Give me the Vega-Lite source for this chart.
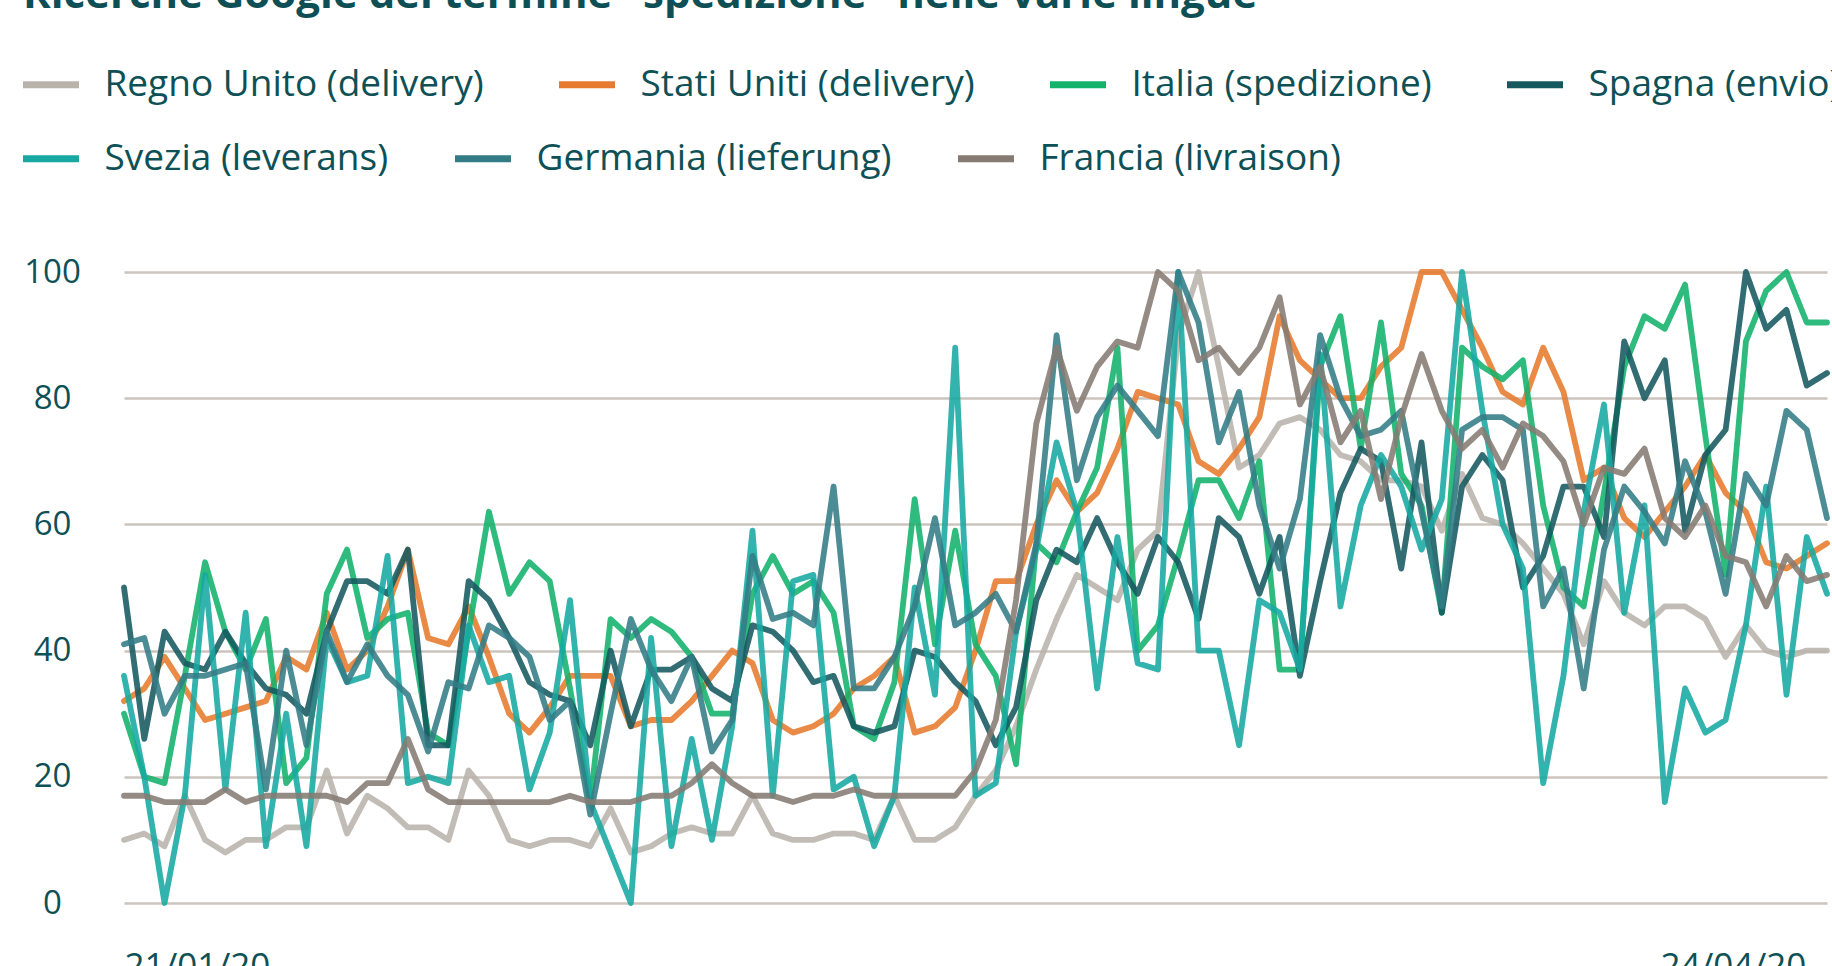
{
  "$schema": "https://vega.github.io/schema/vega-lite/v6.json",
  "width": 1703,
  "height": 631,
  "autosize": {"type": "none"},
  "padding": {"left": 124, "top": 272, "right": 5, "bottom": 63},
  "background": "white",
  "title": {
    "text": "Ricerche Google del termine \"spedizione\" nelle varie lingue",
    "anchor": "start",
    "frame": "group",
    "orient": "top",
    "offset": 0,
    "dx": -101,
    "dy": -3,
    "baseline": "alphabetic",
    "font": "Open Sans",
    "fontSize": 42,
    "fontWeight": "bold",
    "color": "#0d4f54"
  },
  "config": {
    "view": {"stroke": null},
    "font": "Open Sans",
    "legend": {
      "title": null,
      "orient": "none",
      "legendX": -104.5,
      "direction": "horizontal",
      "padding": 0,
      "symbolType": "stroke",
      "symbolSize": 3136,
      "symbolStrokeWidth": 7,
      "symbolOpacity": 1,
      "labelFont": "Open Sans",
      "labelFontSize": 37,
      "labelColor": "#0d5055",
      "labelOffset": 22,
      "labelLimit": 0
    }
  },
  "data": {
    "values": [
      {"serie":"Regno Unito (delivery)","i":0,"v":10},{"serie":"Regno Unito (delivery)","i":1,"v":11},{"serie":"Regno Unito (delivery)","i":2,"v":9},{"serie":"Regno Unito (delivery)","i":3,"v":17},{"serie":"Regno Unito (delivery)","i":4,"v":10},{"serie":"Regno Unito (delivery)","i":5,"v":8},{"serie":"Regno Unito (delivery)","i":6,"v":10},{"serie":"Regno Unito (delivery)","i":7,"v":10},{"serie":"Regno Unito (delivery)","i":8,"v":12},{"serie":"Regno Unito (delivery)","i":9,"v":12},
      {"serie":"Regno Unito (delivery)","i":10,"v":21},{"serie":"Regno Unito (delivery)","i":11,"v":11},{"serie":"Regno Unito (delivery)","i":12,"v":17},{"serie":"Regno Unito (delivery)","i":13,"v":15},{"serie":"Regno Unito (delivery)","i":14,"v":12},{"serie":"Regno Unito (delivery)","i":15,"v":12},{"serie":"Regno Unito (delivery)","i":16,"v":10},{"serie":"Regno Unito (delivery)","i":17,"v":21},{"serie":"Regno Unito (delivery)","i":18,"v":17},{"serie":"Regno Unito (delivery)","i":19,"v":10},
      {"serie":"Regno Unito (delivery)","i":20,"v":9},{"serie":"Regno Unito (delivery)","i":21,"v":10},{"serie":"Regno Unito (delivery)","i":22,"v":10},{"serie":"Regno Unito (delivery)","i":23,"v":9},{"serie":"Regno Unito (delivery)","i":24,"v":15},{"serie":"Regno Unito (delivery)","i":25,"v":8},{"serie":"Regno Unito (delivery)","i":26,"v":9},{"serie":"Regno Unito (delivery)","i":27,"v":11},{"serie":"Regno Unito (delivery)","i":28,"v":12},{"serie":"Regno Unito (delivery)","i":29,"v":11},
      {"serie":"Regno Unito (delivery)","i":30,"v":11},{"serie":"Regno Unito (delivery)","i":31,"v":17},{"serie":"Regno Unito (delivery)","i":32,"v":11},{"serie":"Regno Unito (delivery)","i":33,"v":10},{"serie":"Regno Unito (delivery)","i":34,"v":10},{"serie":"Regno Unito (delivery)","i":35,"v":11},{"serie":"Regno Unito (delivery)","i":36,"v":11},{"serie":"Regno Unito (delivery)","i":37,"v":10},{"serie":"Regno Unito (delivery)","i":38,"v":17},{"serie":"Regno Unito (delivery)","i":39,"v":10},
      {"serie":"Regno Unito (delivery)","i":40,"v":10},{"serie":"Regno Unito (delivery)","i":41,"v":12},{"serie":"Regno Unito (delivery)","i":42,"v":17},{"serie":"Regno Unito (delivery)","i":43,"v":21},{"serie":"Regno Unito (delivery)","i":44,"v":28},{"serie":"Regno Unito (delivery)","i":45,"v":37},{"serie":"Regno Unito (delivery)","i":46,"v":45},{"serie":"Regno Unito (delivery)","i":47,"v":52},{"serie":"Regno Unito (delivery)","i":48,"v":50},{"serie":"Regno Unito (delivery)","i":49,"v":48},
      {"serie":"Regno Unito (delivery)","i":50,"v":56},{"serie":"Regno Unito (delivery)","i":51,"v":59},{"serie":"Regno Unito (delivery)","i":52,"v":90},{"serie":"Regno Unito (delivery)","i":53,"v":100},{"serie":"Regno Unito (delivery)","i":54,"v":85},{"serie":"Regno Unito (delivery)","i":55,"v":69},{"serie":"Regno Unito (delivery)","i":56,"v":71},{"serie":"Regno Unito (delivery)","i":57,"v":76},{"serie":"Regno Unito (delivery)","i":58,"v":77},{"serie":"Regno Unito (delivery)","i":59,"v":75},
      {"serie":"Regno Unito (delivery)","i":60,"v":71},{"serie":"Regno Unito (delivery)","i":61,"v":70},{"serie":"Regno Unito (delivery)","i":62,"v":67},{"serie":"Regno Unito (delivery)","i":63,"v":67},{"serie":"Regno Unito (delivery)","i":64,"v":66},{"serie":"Regno Unito (delivery)","i":65,"v":59},{"serie":"Regno Unito (delivery)","i":66,"v":68},{"serie":"Regno Unito (delivery)","i":67,"v":61},{"serie":"Regno Unito (delivery)","i":68,"v":60},{"serie":"Regno Unito (delivery)","i":69,"v":57},
      {"serie":"Regno Unito (delivery)","i":70,"v":53},{"serie":"Regno Unito (delivery)","i":71,"v":49},{"serie":"Regno Unito (delivery)","i":72,"v":41},{"serie":"Regno Unito (delivery)","i":73,"v":51},{"serie":"Regno Unito (delivery)","i":74,"v":46},{"serie":"Regno Unito (delivery)","i":75,"v":44},{"serie":"Regno Unito (delivery)","i":76,"v":47},{"serie":"Regno Unito (delivery)","i":77,"v":47},{"serie":"Regno Unito (delivery)","i":78,"v":45},{"serie":"Regno Unito (delivery)","i":79,"v":39},
      {"serie":"Regno Unito (delivery)","i":80,"v":44},{"serie":"Regno Unito (delivery)","i":81,"v":40},{"serie":"Regno Unito (delivery)","i":82,"v":39},{"serie":"Regno Unito (delivery)","i":83,"v":40},{"serie":"Regno Unito (delivery)","i":84,"v":40},

      {"serie":"Stati Uniti (delivery)","i":0,"v":32},{"serie":"Stati Uniti (delivery)","i":1,"v":34},{"serie":"Stati Uniti (delivery)","i":2,"v":39},{"serie":"Stati Uniti (delivery)","i":3,"v":34},{"serie":"Stati Uniti (delivery)","i":4,"v":29},{"serie":"Stati Uniti (delivery)","i":5,"v":30},{"serie":"Stati Uniti (delivery)","i":6,"v":31},{"serie":"Stati Uniti (delivery)","i":7,"v":32},{"serie":"Stati Uniti (delivery)","i":8,"v":39},{"serie":"Stati Uniti (delivery)","i":9,"v":37},
      {"serie":"Stati Uniti (delivery)","i":10,"v":46},{"serie":"Stati Uniti (delivery)","i":11,"v":37},{"serie":"Stati Uniti (delivery)","i":12,"v":40},{"serie":"Stati Uniti (delivery)","i":13,"v":47},{"serie":"Stati Uniti (delivery)","i":14,"v":56},{"serie":"Stati Uniti (delivery)","i":15,"v":42},{"serie":"Stati Uniti (delivery)","i":16,"v":41},{"serie":"Stati Uniti (delivery)","i":17,"v":47},{"serie":"Stati Uniti (delivery)","i":18,"v":39},{"serie":"Stati Uniti (delivery)","i":19,"v":30},
      {"serie":"Stati Uniti (delivery)","i":20,"v":27},{"serie":"Stati Uniti (delivery)","i":21,"v":31},{"serie":"Stati Uniti (delivery)","i":22,"v":36},{"serie":"Stati Uniti (delivery)","i":23,"v":36},{"serie":"Stati Uniti (delivery)","i":24,"v":36},{"serie":"Stati Uniti (delivery)","i":25,"v":28},{"serie":"Stati Uniti (delivery)","i":26,"v":29},{"serie":"Stati Uniti (delivery)","i":27,"v":29},{"serie":"Stati Uniti (delivery)","i":28,"v":32},{"serie":"Stati Uniti (delivery)","i":29,"v":36},
      {"serie":"Stati Uniti (delivery)","i":30,"v":40},{"serie":"Stati Uniti (delivery)","i":31,"v":38},{"serie":"Stati Uniti (delivery)","i":32,"v":29},{"serie":"Stati Uniti (delivery)","i":33,"v":27},{"serie":"Stati Uniti (delivery)","i":34,"v":28},{"serie":"Stati Uniti (delivery)","i":35,"v":30},{"serie":"Stati Uniti (delivery)","i":36,"v":34},{"serie":"Stati Uniti (delivery)","i":37,"v":36},{"serie":"Stati Uniti (delivery)","i":38,"v":39},{"serie":"Stati Uniti (delivery)","i":39,"v":27},
      {"serie":"Stati Uniti (delivery)","i":40,"v":28},{"serie":"Stati Uniti (delivery)","i":41,"v":31},{"serie":"Stati Uniti (delivery)","i":42,"v":40},{"serie":"Stati Uniti (delivery)","i":43,"v":51},{"serie":"Stati Uniti (delivery)","i":44,"v":51},{"serie":"Stati Uniti (delivery)","i":45,"v":60},{"serie":"Stati Uniti (delivery)","i":46,"v":67},{"serie":"Stati Uniti (delivery)","i":47,"v":62},{"serie":"Stati Uniti (delivery)","i":48,"v":65},{"serie":"Stati Uniti (delivery)","i":49,"v":72},
      {"serie":"Stati Uniti (delivery)","i":50,"v":81},{"serie":"Stati Uniti (delivery)","i":51,"v":80},{"serie":"Stati Uniti (delivery)","i":52,"v":79},{"serie":"Stati Uniti (delivery)","i":53,"v":70},{"serie":"Stati Uniti (delivery)","i":54,"v":68},{"serie":"Stati Uniti (delivery)","i":55,"v":72},{"serie":"Stati Uniti (delivery)","i":56,"v":77},{"serie":"Stati Uniti (delivery)","i":57,"v":93},{"serie":"Stati Uniti (delivery)","i":58,"v":86},{"serie":"Stati Uniti (delivery)","i":59,"v":83},
      {"serie":"Stati Uniti (delivery)","i":60,"v":80},{"serie":"Stati Uniti (delivery)","i":61,"v":80},{"serie":"Stati Uniti (delivery)","i":62,"v":85},{"serie":"Stati Uniti (delivery)","i":63,"v":88},{"serie":"Stati Uniti (delivery)","i":64,"v":100},{"serie":"Stati Uniti (delivery)","i":65,"v":100},{"serie":"Stati Uniti (delivery)","i":66,"v":94},{"serie":"Stati Uniti (delivery)","i":67,"v":88},{"serie":"Stati Uniti (delivery)","i":68,"v":81},{"serie":"Stati Uniti (delivery)","i":69,"v":79},
      {"serie":"Stati Uniti (delivery)","i":70,"v":88},{"serie":"Stati Uniti (delivery)","i":71,"v":81},{"serie":"Stati Uniti (delivery)","i":72,"v":67},{"serie":"Stati Uniti (delivery)","i":73,"v":69},{"serie":"Stati Uniti (delivery)","i":74,"v":61},{"serie":"Stati Uniti (delivery)","i":75,"v":58},{"serie":"Stati Uniti (delivery)","i":76,"v":62},{"serie":"Stati Uniti (delivery)","i":77,"v":66},{"serie":"Stati Uniti (delivery)","i":78,"v":71},{"serie":"Stati Uniti (delivery)","i":79,"v":65},
      {"serie":"Stati Uniti (delivery)","i":80,"v":62},{"serie":"Stati Uniti (delivery)","i":81,"v":54},{"serie":"Stati Uniti (delivery)","i":82,"v":53},{"serie":"Stati Uniti (delivery)","i":83,"v":55},{"serie":"Stati Uniti (delivery)","i":84,"v":57},

      {"serie":"Italia (spedizione)","i":0,"v":30},{"serie":"Italia (spedizione)","i":1,"v":20},{"serie":"Italia (spedizione)","i":2,"v":19},{"serie":"Italia (spedizione)","i":3,"v":36},{"serie":"Italia (spedizione)","i":4,"v":54},{"serie":"Italia (spedizione)","i":5,"v":43},{"serie":"Italia (spedizione)","i":6,"v":37},{"serie":"Italia (spedizione)","i":7,"v":45},{"serie":"Italia (spedizione)","i":8,"v":19},{"serie":"Italia (spedizione)","i":9,"v":23},
      {"serie":"Italia (spedizione)","i":10,"v":49},{"serie":"Italia (spedizione)","i":11,"v":56},{"serie":"Italia (spedizione)","i":12,"v":42},{"serie":"Italia (spedizione)","i":13,"v":45},{"serie":"Italia (spedizione)","i":14,"v":46},{"serie":"Italia (spedizione)","i":15,"v":27},{"serie":"Italia (spedizione)","i":16,"v":25},{"serie":"Italia (spedizione)","i":17,"v":43},{"serie":"Italia (spedizione)","i":18,"v":62},{"serie":"Italia (spedizione)","i":19,"v":49},
      {"serie":"Italia (spedizione)","i":20,"v":54},{"serie":"Italia (spedizione)","i":21,"v":51},{"serie":"Italia (spedizione)","i":22,"v":34},{"serie":"Italia (spedizione)","i":23,"v":16},{"serie":"Italia (spedizione)","i":24,"v":45},{"serie":"Italia (spedizione)","i":25,"v":42},{"serie":"Italia (spedizione)","i":26,"v":45},{"serie":"Italia (spedizione)","i":27,"v":43},{"serie":"Italia (spedizione)","i":28,"v":39},{"serie":"Italia (spedizione)","i":29,"v":30},
      {"serie":"Italia (spedizione)","i":30,"v":30},{"serie":"Italia (spedizione)","i":31,"v":49},{"serie":"Italia (spedizione)","i":32,"v":55},{"serie":"Italia (spedizione)","i":33,"v":49},{"serie":"Italia (spedizione)","i":34,"v":51},{"serie":"Italia (spedizione)","i":35,"v":46},{"serie":"Italia (spedizione)","i":36,"v":28},{"serie":"Italia (spedizione)","i":37,"v":26},{"serie":"Italia (spedizione)","i":38,"v":35},{"serie":"Italia (spedizione)","i":39,"v":64},
      {"serie":"Italia (spedizione)","i":40,"v":41},{"serie":"Italia (spedizione)","i":41,"v":59},{"serie":"Italia (spedizione)","i":42,"v":41},{"serie":"Italia (spedizione)","i":43,"v":36},{"serie":"Italia (spedizione)","i":44,"v":22},{"serie":"Italia (spedizione)","i":45,"v":57},{"serie":"Italia (spedizione)","i":46,"v":54},{"serie":"Italia (spedizione)","i":47,"v":62},{"serie":"Italia (spedizione)","i":48,"v":69},{"serie":"Italia (spedizione)","i":49,"v":88},
      {"serie":"Italia (spedizione)","i":50,"v":40},{"serie":"Italia (spedizione)","i":51,"v":44},{"serie":"Italia (spedizione)","i":52,"v":55},{"serie":"Italia (spedizione)","i":53,"v":67},{"serie":"Italia (spedizione)","i":54,"v":67},{"serie":"Italia (spedizione)","i":55,"v":61},{"serie":"Italia (spedizione)","i":56,"v":70},{"serie":"Italia (spedizione)","i":57,"v":37},{"serie":"Italia (spedizione)","i":58,"v":37},{"serie":"Italia (spedizione)","i":59,"v":85},
      {"serie":"Italia (spedizione)","i":60,"v":93},{"serie":"Italia (spedizione)","i":61,"v":72},{"serie":"Italia (spedizione)","i":62,"v":92},{"serie":"Italia (spedizione)","i":63,"v":68},{"serie":"Italia (spedizione)","i":64,"v":63},{"serie":"Italia (spedizione)","i":65,"v":46},{"serie":"Italia (spedizione)","i":66,"v":88},{"serie":"Italia (spedizione)","i":67,"v":85},{"serie":"Italia (spedizione)","i":68,"v":83},{"serie":"Italia (spedizione)","i":69,"v":86},
      {"serie":"Italia (spedizione)","i":70,"v":63},{"serie":"Italia (spedizione)","i":71,"v":50},{"serie":"Italia (spedizione)","i":72,"v":47},{"serie":"Italia (spedizione)","i":73,"v":65},{"serie":"Italia (spedizione)","i":74,"v":85},{"serie":"Italia (spedizione)","i":75,"v":93},{"serie":"Italia (spedizione)","i":76,"v":91},{"serie":"Italia (spedizione)","i":77,"v":98},{"serie":"Italia (spedizione)","i":78,"v":74},{"serie":"Italia (spedizione)","i":79,"v":52},
      {"serie":"Italia (spedizione)","i":80,"v":89},{"serie":"Italia (spedizione)","i":81,"v":97},{"serie":"Italia (spedizione)","i":82,"v":100},{"serie":"Italia (spedizione)","i":83,"v":92},{"serie":"Italia (spedizione)","i":84,"v":92},

      {"serie":"Spagna (envio)","i":0,"v":50},{"serie":"Spagna (envio)","i":1,"v":26},{"serie":"Spagna (envio)","i":2,"v":43},{"serie":"Spagna (envio)","i":3,"v":38},{"serie":"Spagna (envio)","i":4,"v":37},{"serie":"Spagna (envio)","i":5,"v":43},{"serie":"Spagna (envio)","i":6,"v":38},{"serie":"Spagna (envio)","i":7,"v":34},{"serie":"Spagna (envio)","i":8,"v":33},{"serie":"Spagna (envio)","i":9,"v":30},
      {"serie":"Spagna (envio)","i":10,"v":43},{"serie":"Spagna (envio)","i":11,"v":51},{"serie":"Spagna (envio)","i":12,"v":51},{"serie":"Spagna (envio)","i":13,"v":49},{"serie":"Spagna (envio)","i":14,"v":56},{"serie":"Spagna (envio)","i":15,"v":25},{"serie":"Spagna (envio)","i":16,"v":25},{"serie":"Spagna (envio)","i":17,"v":51},{"serie":"Spagna (envio)","i":18,"v":48},{"serie":"Spagna (envio)","i":19,"v":42},
      {"serie":"Spagna (envio)","i":20,"v":35},{"serie":"Spagna (envio)","i":21,"v":33},{"serie":"Spagna (envio)","i":22,"v":32},{"serie":"Spagna (envio)","i":23,"v":25},{"serie":"Spagna (envio)","i":24,"v":40},{"serie":"Spagna (envio)","i":25,"v":28},{"serie":"Spagna (envio)","i":26,"v":37},{"serie":"Spagna (envio)","i":27,"v":37},{"serie":"Spagna (envio)","i":28,"v":39},{"serie":"Spagna (envio)","i":29,"v":34},
      {"serie":"Spagna (envio)","i":30,"v":32},{"serie":"Spagna (envio)","i":31,"v":44},{"serie":"Spagna (envio)","i":32,"v":43},{"serie":"Spagna (envio)","i":33,"v":40},{"serie":"Spagna (envio)","i":34,"v":35},{"serie":"Spagna (envio)","i":35,"v":36},{"serie":"Spagna (envio)","i":36,"v":28},{"serie":"Spagna (envio)","i":37,"v":27},{"serie":"Spagna (envio)","i":38,"v":28},{"serie":"Spagna (envio)","i":39,"v":40},
      {"serie":"Spagna (envio)","i":40,"v":39},{"serie":"Spagna (envio)","i":41,"v":35},{"serie":"Spagna (envio)","i":42,"v":32},{"serie":"Spagna (envio)","i":43,"v":25},{"serie":"Spagna (envio)","i":44,"v":31},{"serie":"Spagna (envio)","i":45,"v":48},{"serie":"Spagna (envio)","i":46,"v":56},{"serie":"Spagna (envio)","i":47,"v":54},{"serie":"Spagna (envio)","i":48,"v":61},{"serie":"Spagna (envio)","i":49,"v":54},
      {"serie":"Spagna (envio)","i":50,"v":49},{"serie":"Spagna (envio)","i":51,"v":58},{"serie":"Spagna (envio)","i":52,"v":54},{"serie":"Spagna (envio)","i":53,"v":45},{"serie":"Spagna (envio)","i":54,"v":61},{"serie":"Spagna (envio)","i":55,"v":58},{"serie":"Spagna (envio)","i":56,"v":49},{"serie":"Spagna (envio)","i":57,"v":58},{"serie":"Spagna (envio)","i":58,"v":36},{"serie":"Spagna (envio)","i":59,"v":51},
      {"serie":"Spagna (envio)","i":60,"v":65},{"serie":"Spagna (envio)","i":61,"v":72},{"serie":"Spagna (envio)","i":62,"v":70},{"serie":"Spagna (envio)","i":63,"v":53},{"serie":"Spagna (envio)","i":64,"v":73},{"serie":"Spagna (envio)","i":65,"v":46},{"serie":"Spagna (envio)","i":66,"v":66},{"serie":"Spagna (envio)","i":67,"v":71},{"serie":"Spagna (envio)","i":68,"v":67},{"serie":"Spagna (envio)","i":69,"v":50},
      {"serie":"Spagna (envio)","i":70,"v":55},{"serie":"Spagna (envio)","i":71,"v":66},{"serie":"Spagna (envio)","i":72,"v":66},{"serie":"Spagna (envio)","i":73,"v":58},{"serie":"Spagna (envio)","i":74,"v":89},{"serie":"Spagna (envio)","i":75,"v":80},{"serie":"Spagna (envio)","i":76,"v":86},{"serie":"Spagna (envio)","i":77,"v":59},{"serie":"Spagna (envio)","i":78,"v":71},{"serie":"Spagna (envio)","i":79,"v":75},
      {"serie":"Spagna (envio)","i":80,"v":100},{"serie":"Spagna (envio)","i":81,"v":91},{"serie":"Spagna (envio)","i":82,"v":94},{"serie":"Spagna (envio)","i":83,"v":82},{"serie":"Spagna (envio)","i":84,"v":84},

      {"serie":"Svezia (leverans)","i":0,"v":36},{"serie":"Svezia (leverans)","i":1,"v":20},{"serie":"Svezia (leverans)","i":2,"v":0},{"serie":"Svezia (leverans)","i":3,"v":17},{"serie":"Svezia (leverans)","i":4,"v":52},{"serie":"Svezia (leverans)","i":5,"v":18},{"serie":"Svezia (leverans)","i":6,"v":46},{"serie":"Svezia (leverans)","i":7,"v":9},{"serie":"Svezia (leverans)","i":8,"v":30},{"serie":"Svezia (leverans)","i":9,"v":9},
      {"serie":"Svezia (leverans)","i":10,"v":42},{"serie":"Svezia (leverans)","i":11,"v":35},{"serie":"Svezia (leverans)","i":12,"v":36},{"serie":"Svezia (leverans)","i":13,"v":55},{"serie":"Svezia (leverans)","i":14,"v":19},{"serie":"Svezia (leverans)","i":15,"v":20},{"serie":"Svezia (leverans)","i":16,"v":19},{"serie":"Svezia (leverans)","i":17,"v":44},{"serie":"Svezia (leverans)","i":18,"v":35},{"serie":"Svezia (leverans)","i":19,"v":36},
      {"serie":"Svezia (leverans)","i":20,"v":18},{"serie":"Svezia (leverans)","i":21,"v":27},{"serie":"Svezia (leverans)","i":22,"v":48},{"serie":"Svezia (leverans)","i":23,"v":16},{"serie":"Svezia (leverans)","i":24,"v":8},{"serie":"Svezia (leverans)","i":25,"v":0},{"serie":"Svezia (leverans)","i":26,"v":42},{"serie":"Svezia (leverans)","i":27,"v":9},{"serie":"Svezia (leverans)","i":28,"v":26},{"serie":"Svezia (leverans)","i":29,"v":10},
      {"serie":"Svezia (leverans)","i":30,"v":28},{"serie":"Svezia (leverans)","i":31,"v":59},{"serie":"Svezia (leverans)","i":32,"v":17},{"serie":"Svezia (leverans)","i":33,"v":51},{"serie":"Svezia (leverans)","i":34,"v":52},{"serie":"Svezia (leverans)","i":35,"v":18},{"serie":"Svezia (leverans)","i":36,"v":20},{"serie":"Svezia (leverans)","i":37,"v":9},{"serie":"Svezia (leverans)","i":38,"v":17},{"serie":"Svezia (leverans)","i":39,"v":50},
      {"serie":"Svezia (leverans)","i":40,"v":33},{"serie":"Svezia (leverans)","i":41,"v":88},{"serie":"Svezia (leverans)","i":42,"v":17},{"serie":"Svezia (leverans)","i":43,"v":19},{"serie":"Svezia (leverans)","i":44,"v":43},{"serie":"Svezia (leverans)","i":45,"v":56},{"serie":"Svezia (leverans)","i":46,"v":73},{"serie":"Svezia (leverans)","i":47,"v":62},{"serie":"Svezia (leverans)","i":48,"v":34},{"serie":"Svezia (leverans)","i":49,"v":58},
      {"serie":"Svezia (leverans)","i":50,"v":38},{"serie":"Svezia (leverans)","i":51,"v":37},{"serie":"Svezia (leverans)","i":52,"v":100},{"serie":"Svezia (leverans)","i":53,"v":40},{"serie":"Svezia (leverans)","i":54,"v":40},{"serie":"Svezia (leverans)","i":55,"v":25},{"serie":"Svezia (leverans)","i":56,"v":48},{"serie":"Svezia (leverans)","i":57,"v":46},{"serie":"Svezia (leverans)","i":58,"v":37},{"serie":"Svezia (leverans)","i":59,"v":87},
      {"serie":"Svezia (leverans)","i":60,"v":47},{"serie":"Svezia (leverans)","i":61,"v":63},{"serie":"Svezia (leverans)","i":62,"v":71},{"serie":"Svezia (leverans)","i":63,"v":66},{"serie":"Svezia (leverans)","i":64,"v":56},{"serie":"Svezia (leverans)","i":65,"v":64},{"serie":"Svezia (leverans)","i":66,"v":100},{"serie":"Svezia (leverans)","i":67,"v":78},{"serie":"Svezia (leverans)","i":68,"v":60},{"serie":"Svezia (leverans)","i":69,"v":53},
      {"serie":"Svezia (leverans)","i":70,"v":19},{"serie":"Svezia (leverans)","i":71,"v":36},{"serie":"Svezia (leverans)","i":72,"v":62},{"serie":"Svezia (leverans)","i":73,"v":79},{"serie":"Svezia (leverans)","i":74,"v":46},{"serie":"Svezia (leverans)","i":75,"v":63},{"serie":"Svezia (leverans)","i":76,"v":16},{"serie":"Svezia (leverans)","i":77,"v":34},{"serie":"Svezia (leverans)","i":78,"v":27},{"serie":"Svezia (leverans)","i":79,"v":29},
      {"serie":"Svezia (leverans)","i":80,"v":44},{"serie":"Svezia (leverans)","i":81,"v":66},{"serie":"Svezia (leverans)","i":82,"v":33},{"serie":"Svezia (leverans)","i":83,"v":58},{"serie":"Svezia (leverans)","i":84,"v":49},

      {"serie":"Germania (lieferung)","i":0,"v":41},{"serie":"Germania (lieferung)","i":1,"v":42},{"serie":"Germania (lieferung)","i":2,"v":30},{"serie":"Germania (lieferung)","i":3,"v":36},{"serie":"Germania (lieferung)","i":4,"v":36},{"serie":"Germania (lieferung)","i":5,"v":37},{"serie":"Germania (lieferung)","i":6,"v":38},{"serie":"Germania (lieferung)","i":7,"v":18},{"serie":"Germania (lieferung)","i":8,"v":40},{"serie":"Germania (lieferung)","i":9,"v":25},
      {"serie":"Germania (lieferung)","i":10,"v":43},{"serie":"Germania (lieferung)","i":11,"v":35},{"serie":"Germania (lieferung)","i":12,"v":41},{"serie":"Germania (lieferung)","i":13,"v":36},{"serie":"Germania (lieferung)","i":14,"v":33},{"serie":"Germania (lieferung)","i":15,"v":24},{"serie":"Germania (lieferung)","i":16,"v":35},{"serie":"Germania (lieferung)","i":17,"v":34},{"serie":"Germania (lieferung)","i":18,"v":44},{"serie":"Germania (lieferung)","i":19,"v":42},
      {"serie":"Germania (lieferung)","i":20,"v":39},{"serie":"Germania (lieferung)","i":21,"v":29},{"serie":"Germania (lieferung)","i":22,"v":32},{"serie":"Germania (lieferung)","i":23,"v":14},{"serie":"Germania (lieferung)","i":24,"v":30},{"serie":"Germania (lieferung)","i":25,"v":45},{"serie":"Germania (lieferung)","i":26,"v":37},{"serie":"Germania (lieferung)","i":27,"v":32},{"serie":"Germania (lieferung)","i":28,"v":39},{"serie":"Germania (lieferung)","i":29,"v":24},
      {"serie":"Germania (lieferung)","i":30,"v":29},{"serie":"Germania (lieferung)","i":31,"v":55},{"serie":"Germania (lieferung)","i":32,"v":45},{"serie":"Germania (lieferung)","i":33,"v":46},{"serie":"Germania (lieferung)","i":34,"v":44},{"serie":"Germania (lieferung)","i":35,"v":66},{"serie":"Germania (lieferung)","i":36,"v":34},{"serie":"Germania (lieferung)","i":37,"v":34},{"serie":"Germania (lieferung)","i":38,"v":39},{"serie":"Germania (lieferung)","i":39,"v":47},
      {"serie":"Germania (lieferung)","i":40,"v":61},{"serie":"Germania (lieferung)","i":41,"v":44},{"serie":"Germania (lieferung)","i":42,"v":46},{"serie":"Germania (lieferung)","i":43,"v":49},{"serie":"Germania (lieferung)","i":44,"v":43},{"serie":"Germania (lieferung)","i":45,"v":57},{"serie":"Germania (lieferung)","i":46,"v":90},{"serie":"Germania (lieferung)","i":47,"v":67},{"serie":"Germania (lieferung)","i":48,"v":77},{"serie":"Germania (lieferung)","i":49,"v":82},
      {"serie":"Germania (lieferung)","i":50,"v":78},{"serie":"Germania (lieferung)","i":51,"v":74},{"serie":"Germania (lieferung)","i":52,"v":100},{"serie":"Germania (lieferung)","i":53,"v":92},{"serie":"Germania (lieferung)","i":54,"v":73},{"serie":"Germania (lieferung)","i":55,"v":81},{"serie":"Germania (lieferung)","i":56,"v":63},{"serie":"Germania (lieferung)","i":57,"v":53},{"serie":"Germania (lieferung)","i":58,"v":64},{"serie":"Germania (lieferung)","i":59,"v":90},
      {"serie":"Germania (lieferung)","i":60,"v":80},{"serie":"Germania (lieferung)","i":61,"v":74},{"serie":"Germania (lieferung)","i":62,"v":75},{"serie":"Germania (lieferung)","i":63,"v":78},{"serie":"Germania (lieferung)","i":64,"v":62},{"serie":"Germania (lieferung)","i":65,"v":47},{"serie":"Germania (lieferung)","i":66,"v":75},{"serie":"Germania (lieferung)","i":67,"v":77},{"serie":"Germania (lieferung)","i":68,"v":77},{"serie":"Germania (lieferung)","i":69,"v":75},
      {"serie":"Germania (lieferung)","i":70,"v":47},{"serie":"Germania (lieferung)","i":71,"v":53},{"serie":"Germania (lieferung)","i":72,"v":34},{"serie":"Germania (lieferung)","i":73,"v":56},{"serie":"Germania (lieferung)","i":74,"v":66},{"serie":"Germania (lieferung)","i":75,"v":62},{"serie":"Germania (lieferung)","i":76,"v":57},{"serie":"Germania (lieferung)","i":77,"v":70},{"serie":"Germania (lieferung)","i":78,"v":62},{"serie":"Germania (lieferung)","i":79,"v":49},
      {"serie":"Germania (lieferung)","i":80,"v":68},{"serie":"Germania (lieferung)","i":81,"v":63},{"serie":"Germania (lieferung)","i":82,"v":78},{"serie":"Germania (lieferung)","i":83,"v":75},{"serie":"Germania (lieferung)","i":84,"v":61},

      {"serie":"Francia (livraison)","i":0,"v":17},{"serie":"Francia (livraison)","i":1,"v":17},{"serie":"Francia (livraison)","i":2,"v":16},{"serie":"Francia (livraison)","i":3,"v":16},{"serie":"Francia (livraison)","i":4,"v":16},{"serie":"Francia (livraison)","i":5,"v":18},{"serie":"Francia (livraison)","i":6,"v":16},{"serie":"Francia (livraison)","i":7,"v":17},{"serie":"Francia (livraison)","i":8,"v":17},{"serie":"Francia (livraison)","i":9,"v":17},
      {"serie":"Francia (livraison)","i":10,"v":17},{"serie":"Francia (livraison)","i":11,"v":16},{"serie":"Francia (livraison)","i":12,"v":19},{"serie":"Francia (livraison)","i":13,"v":19},{"serie":"Francia (livraison)","i":14,"v":26},{"serie":"Francia (livraison)","i":15,"v":18},{"serie":"Francia (livraison)","i":16,"v":16},{"serie":"Francia (livraison)","i":17,"v":16},{"serie":"Francia (livraison)","i":18,"v":16},{"serie":"Francia (livraison)","i":19,"v":16},
      {"serie":"Francia (livraison)","i":20,"v":16},{"serie":"Francia (livraison)","i":21,"v":16},{"serie":"Francia (livraison)","i":22,"v":17},{"serie":"Francia (livraison)","i":23,"v":16},{"serie":"Francia (livraison)","i":24,"v":16},{"serie":"Francia (livraison)","i":25,"v":16},{"serie":"Francia (livraison)","i":26,"v":17},{"serie":"Francia (livraison)","i":27,"v":17},{"serie":"Francia (livraison)","i":28,"v":19},{"serie":"Francia (livraison)","i":29,"v":22},
      {"serie":"Francia (livraison)","i":30,"v":19},{"serie":"Francia (livraison)","i":31,"v":17},{"serie":"Francia (livraison)","i":32,"v":17},{"serie":"Francia (livraison)","i":33,"v":16},{"serie":"Francia (livraison)","i":34,"v":17},{"serie":"Francia (livraison)","i":35,"v":17},{"serie":"Francia (livraison)","i":36,"v":18},{"serie":"Francia (livraison)","i":37,"v":17},{"serie":"Francia (livraison)","i":38,"v":17},{"serie":"Francia (livraison)","i":39,"v":17},
      {"serie":"Francia (livraison)","i":40,"v":17},{"serie":"Francia (livraison)","i":41,"v":17},{"serie":"Francia (livraison)","i":42,"v":21},{"serie":"Francia (livraison)","i":43,"v":29},{"serie":"Francia (livraison)","i":44,"v":48},{"serie":"Francia (livraison)","i":45,"v":76},{"serie":"Francia (livraison)","i":46,"v":88},{"serie":"Francia (livraison)","i":47,"v":78},{"serie":"Francia (livraison)","i":48,"v":85},{"serie":"Francia (livraison)","i":49,"v":89},
      {"serie":"Francia (livraison)","i":50,"v":88},{"serie":"Francia (livraison)","i":51,"v":100},{"serie":"Francia (livraison)","i":52,"v":97},{"serie":"Francia (livraison)","i":53,"v":86},{"serie":"Francia (livraison)","i":54,"v":88},{"serie":"Francia (livraison)","i":55,"v":84},{"serie":"Francia (livraison)","i":56,"v":88},{"serie":"Francia (livraison)","i":57,"v":96},{"serie":"Francia (livraison)","i":58,"v":79},{"serie":"Francia (livraison)","i":59,"v":85},
      {"serie":"Francia (livraison)","i":60,"v":73},{"serie":"Francia (livraison)","i":61,"v":78},{"serie":"Francia (livraison)","i":62,"v":64},{"serie":"Francia (livraison)","i":63,"v":77},{"serie":"Francia (livraison)","i":64,"v":87},{"serie":"Francia (livraison)","i":65,"v":78},{"serie":"Francia (livraison)","i":66,"v":72},{"serie":"Francia (livraison)","i":67,"v":75},{"serie":"Francia (livraison)","i":68,"v":69},{"serie":"Francia (livraison)","i":69,"v":76},
      {"serie":"Francia (livraison)","i":70,"v":74},{"serie":"Francia (livraison)","i":71,"v":70},{"serie":"Francia (livraison)","i":72,"v":60},{"serie":"Francia (livraison)","i":73,"v":69},{"serie":"Francia (livraison)","i":74,"v":68},{"serie":"Francia (livraison)","i":75,"v":72},{"serie":"Francia (livraison)","i":76,"v":61},{"serie":"Francia (livraison)","i":77,"v":58},{"serie":"Francia (livraison)","i":78,"v":63},{"serie":"Francia (livraison)","i":79,"v":55},
      {"serie":"Francia (livraison)","i":80,"v":54},{"serie":"Francia (livraison)","i":81,"v":47},{"serie":"Francia (livraison)","i":82,"v":55},{"serie":"Francia (livraison)","i":83,"v":51},{"serie":"Francia (livraison)","i":84,"v":52}
    ]
  },
  "encoding": {
    "x": {
      "field": "i",
      "type": "quantitative",
      "scale": {"domain": [0, 84], "nice": false, "zero": false},
      "axis": {
        "title": null,
        "values": [0, 84],
        "labelExpr": "datum.value == 0 ? '21/01/20' : '24/04/20'",
        "grid": false,
        "domain": false,
        "ticks": false,
        "labelFlush": false,
        "labelOverlap": false,
        "labelBound": false,
        "labelAlign": "left",
        "labelBaseline": "top",
        "labelOffset": {"condition": {"test": "datum.value == 84", "value": -167}, "value": 0},
        "labelPadding": 46,
        "labelFont": "Open Sans",
        "labelFontSize": 35,
        "labelColor": "#0d5055"
      }
    },
    "y": {
      "field": "v",
      "type": "quantitative",
      "scale": {"domain": [0, 100], "nice": false},
      "axis": {
        "title": null,
        "values": [0, 20, 40, 60, 80, 100],
        "grid": true,
        "gridColor": "#cbc5be",
        "gridWidth": 2.5,
        "domain": false,
        "ticks": false,
        "labelAlign": "center",
        "labelBaseline": "middle",
        "labelPadding": 72,
        "labelFont": "Open Sans",
        "labelFontSize": 33,
        "labelColor": "#0d5055"
      }
    }
  },
  "layer": [
    {
      "transform": [{"filter": {"field": "serie", "oneOf": ["Regno Unito (delivery)", "Stati Uniti (delivery)", "Italia (spedizione)", "Spagna (envio)"]}}],
      "mark": {"type": "line", "strokeWidth": 5.8, "opacity": 0.88, "strokeJoin": "round", "strokeCap": "round"},
      "encoding": {
        "color": {
          "field": "serie",
          "type": "nominal",
          "sort": null,
          "scale": {
            "domain": ["Regno Unito (delivery)", "Stati Uniti (delivery)", "Italia (spedizione)", "Spagna (envio)"],
            "range": ["#b9b3ac", "#e67a2e", "#12b26b", "#14595e"]
          },
          "legend": {"legendY": -219, "columnPadding": 60}
        }
      }
    },
    {
      "transform": [{"filter": {"field": "serie", "oneOf": ["Svezia (leverans)", "Germania (lieferung)", "Francia (livraison)"]}}],
      "mark": {"type": "line", "strokeWidth": 5.8, "opacity": 0.88, "strokeJoin": "round", "strokeCap": "round"},
      "encoding": {
        "color": {
          "field": "serie",
          "type": "nominal",
          "sort": null,
          "scale": {
            "domain": ["Svezia (leverans)", "Germania (lieferung)", "Francia (livraison)"],
            "range": ["#17a8a2", "#337c86", "#857b73"]
          },
          "legend": {"legendY": -145, "columnPadding": 52}
        }
      }
    }
  ],
  "resolve": {"scale": {"color": "independent"}}
}
